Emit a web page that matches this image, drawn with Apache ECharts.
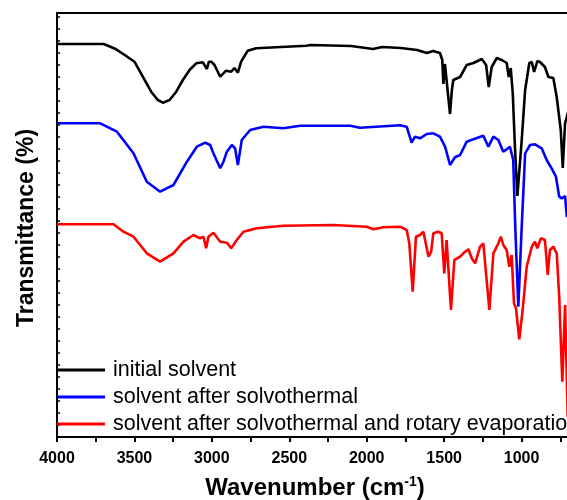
<!DOCTYPE html>
<html>
<head>
<meta charset="utf-8">
<script src="https://cdn.jsdelivr.net/npm/echarts@6/dist/echarts.min.js"></script>
<style>
html,body{margin:0;padding:0;background:#fff;}
#c{width:567px;height:500px;}
</style>
</head>
<body>
<div id="c"></div>
<script>
// Series names
const seriesNames = ['initial solvent', 'solvent after solvothermal', 'solvent after solvothermal and rotary evaporation'];
const seriesColors = ['#000000', '#0000ff', '#ff0000'];

// initial solvent (wavenumber cm-1, transmittance a.u. incl. offset)
const blackWn = [4000,3700,3682,3618,3553,3500,3446,3392,3349,3316,3273,3230,3187,3144,3101,3058,3032,3019,3004,2983,2946,2908,2875,2854,2832,2811,2768,2714,2390,2364,2100,1959,1900,1780,1674,1612,1571,1527,1512,1505,1495,1483,1462,1450,1441,1397,1354,1311,1257,1229,1212,1193,1160,1128,1096,1083,1070,1057,1042,1027,999,977,950,934,919,898,881,849,827,795,773,747,734,719,708,700];
const blackT  = [393,393,392,387.7,381,375.3,360.3,345.3,337,334.3,337,345.3,357,367,373.7,374.7,368,375.3,375.3,372,360.3,366.3,365.3,369,364.3,375.3,386.3,388.7,391.3,392,391,388,390,389,387,384,386,384,377,353,373,372,323,347,357,360,372,374,378,372,350,370,379,377,374,360,369,344,287,241,297,347,374,375,365,376,375,370,360,359,340,307,269,314,320,325];

// solvent after solvothermal
const blueWn = [4000,3721,3613,3506,3420,3334,3248,3161,3097,3043,3011,2990,2946,2925,2903,2871,2850,2832,2807,2753,2667,2538,2430,2107,2044,1785,1742,1710,1688,1656,1612,1570,1527,1494,1462,1430,1397,1354,1311,1247,1214,1182,1150,1118,1075,1054,1040,1021,1000,977,945,913,870,838,806,778,757,741,719,708,700];
const blueT  = [313.7,313.7,305.3,283.7,255.3,245.3,252,275.3,290.3,294.3,292,283.7,268.7,275.3,285.3,292,288.7,272,297,307,310.3,308.7,311.3,311.3,309.3,311.7,310.3,294.3,300.3,298.7,303,303.7,300.3,290.3,272,279.7,282,295.3,297.7,301.3,290.3,300.3,297,285.3,290.3,277,207,130.3,207,283.7,292,292.7,288.7,277,268.7,260.3,240.3,238.7,241,220.3,221];

// solvent after solvothermal and rotary evaporation
const redWn = [4000,3635,3571,3506,3420,3334,3248,3183,3119,3076,3054,3037,3022,2990,2946,2903,2875,2839,2796,2710,2538,2215,2000,1957,1893,1785,1742,1725,1703,1682,1656,1634,1601,1584,1570,1538,1516,1499,1484,1456,1434,1397,1365,1343,1322,1300,1268,1247,1208,1182,1150,1134,1118,1096,1079,1064,1049,1036,1015,993,967,934,913,898,876,849,831,817,795,773,757,737,719,708,702];
const redT  = [212.7,212.7,205.3,200.3,183.7,175.3,183.7,195.3,202,198.7,200.3,188.7,200.3,204.3,195.3,194.3,188.7,197,205.3,208.7,211.3,212,210.3,207.7,209.7,210.3,207,193.7,145.3,200.3,202,205.3,180.3,185.3,203.7,205.3,203.7,163.7,197,127,177,180.3,185.3,187.7,178.7,173.7,190.3,193.7,127,183.7,193.7,200.3,192,187,170.3,182,133.7,128.7,97.7,127,170.3,190.3,195.3,188.7,198.7,197,162,187,190.3,183.7,140.3,55.3,132,133.7,20];

// axis ticks
const xTickLabels = [4000,3500,3000,2500,2000,1500,1000];

const zip = (a, b) => a.map((v, i) => [v, b[i]]);
const allData = [zip(blackWn, blackT), zip(blueWn, blueT), zip(redWn, redT)];

const FONT = "'Liberation Sans', Arial, sans-serif";
const chart = echarts.init(document.getElementById('c'), null, {renderer: 'canvas'});

chart.setOption({
  animation: false,
  backgroundColor: '#ffffff',
  grid: {left: 57, top: 13, width: 542, height: 424, show: true, borderColor: '#000', borderWidth: 2,
         backgroundColor: 'transparent', outerBoundsMode: 'none', containLabel: false},
  xAxis: {
    type: 'value', inverse: true, min: 500, max: 4000, interval: 250,
    axisLine: {show: true, lineStyle: {color: '#000', width: 2}},
    axisTick: {show: true, inside: false, length: 5, lineStyle: {color: '#000', width: 2}},
    splitLine: {show: false},
    axisLabel: {
      margin: 14, color: '#000', fontSize: 16, fontWeight: 'bold', fontFamily: FONT,
      formatter: v => xTickLabels.indexOf(v) >= 0 ? String(v) : ''
    }
  },
  yAxis: {
    type: 'value', min: 0, max: 424, interval: 12,
    axisLine: {show: true, lineStyle: {color: '#000', width: 2}},
    axisTick: {show: true, inside: true, length: 3, lineStyle: {color: '#000', width: 1.5}},
    axisLabel: {show: false},
    splitLine: {show: false}
  },
  legend: {
    orient: 'vertical', left: 57, top: 359, padding: 0,
    itemWidth: 48, itemHeight: 3, itemGap: 5, icon: 'rect',
    textStyle: {fontSize: 21.5, fontFamily: FONT, color: '#000', lineHeight: 21.5, padding: [0, 0, 0, 3]},
    data: seriesNames
  },
  series: allData.map((d, i) => ({
    name: seriesNames[i], type: 'line', data: d, showSymbol: false, symbol: 'none',
    lineStyle: {color: seriesColors[i], width: 2.6}, itemStyle: {color: seriesColors[i]},
    clip: true, z: 3 + i
  })),
  graphic: [
    {
      type: 'text', x: 315, y: 488,
      style: {
        text: '{a|Wavenumber (cm}{s|-1}{a|)}',
        align: 'center', verticalAlign: 'middle',
        rich: {
          a: {fontSize: 24, fontWeight: 'bold', fontFamily: FONT, fill: '#000', lineHeight: 26},
          s: {fontSize: 14, fontWeight: 'bold', fontFamily: FONT, fill: '#000', verticalAlign: 'top', lineHeight: 16}
        }
      }
    },
    {
      type: 'text', x: 27, y: 228, rotation: Math.PI / 2,
      style: {
        text: 'Transmittance (%)', align: 'center', verticalAlign: 'middle',
        fontSize: 23, fontWeight: 'bold', fontFamily: FONT, fill: '#000'
      }
    }
  ]
});
</script>
</body>
</html>
